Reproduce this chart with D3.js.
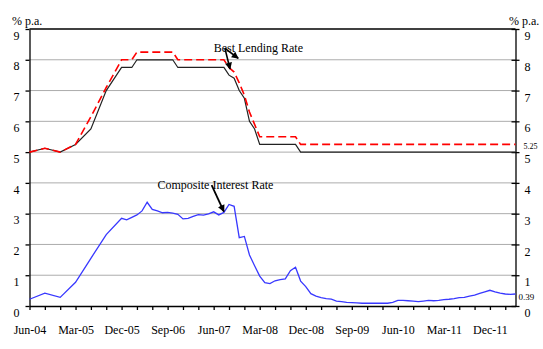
<!DOCTYPE html>
<html><head><meta charset="utf-8">
<script src="https://cdn.jsdelivr.net/npm/d3@7"></script>
<style>
body{margin:0;background:#fff}
svg text{font-family:"Liberation Serif","Times New Roman",serif !important;fill:#000}
</style>
</head><body>
<svg id="c" width="543" height="349"></svg>
<script>
// ---- categories (quarterly to Dec-05, monthly afterwards) ----
const dates = [
 "Jun-04","Sep-04","Dec-04","Mar-05","Jun-05","Sep-05","Dec-05",
 "Jan-06","Feb-06","Mar-06","Apr-06","May-06","Jun-06","Jul-06","Aug-06","Sep-06","Oct-06","Nov-06","Dec-06",
 "Jan-07","Feb-07","Mar-07","Apr-07","May-07","Jun-07","Jul-07","Aug-07","Sep-07","Oct-07","Nov-07","Dec-07",
 "Jan-08","Feb-08","Mar-08","Apr-08","May-08","Jun-08","Jul-08","Aug-08","Sep-08","Oct-08","Nov-08","Dec-08",
 "Jan-09","Feb-09","Mar-09","Apr-09","May-09","Jun-09","Jul-09","Aug-09","Sep-09","Oct-09","Nov-09","Dec-09",
 "Jan-10","Feb-10","Mar-10","Apr-10","May-10","Jun-10","Jul-10","Aug-10","Sep-10","Oct-10","Nov-10","Dec-10",
 "Jan-11","Feb-11","Mar-11","Apr-11","May-11","Jun-11","Jul-11","Aug-11","Sep-11","Oct-11","Nov-11","Dec-11",
 "Jan-12","Feb-12","Mar-12","Apr-12","May-12"
];
// ---- series ----
const composite = [
 0.22,0.42,0.28,0.77,1.55,2.32,2.85,
 2.80,2.88,2.96,3.09,3.37,3.14,3.09,3.03,3.04,3.02,2.98,2.83,
 2.85,2.91,2.97,2.95,2.99,3.06,2.96,3.04,3.30,3.24,2.22,2.26,
 1.66,1.31,0.97,0.76,0.73,0.82,0.86,0.88,1.15,1.26,0.81,0.63,
 0.40,0.32,0.27,0.24,0.22,0.16,0.14,0.12,0.11,0.10,0.09,0.09,
 0.09,0.09,0.09,0.09,0.12,0.18,0.18,0.17,0.16,0.14,0.16,0.18,
 0.17,0.18,0.21,0.22,0.24,0.27,0.28,0.32,0.35,0.41,0.46,0.51,
 0.46,0.42,0.39,0.38,0.39
];
const blrLow = [
 5.0,5.125,5.0,5.25,5.75,7.0,7.75,
 7.75,7.75,8.0,8.0,8.0,8.0,8.0,8.0,8.0,8.0,7.75,7.75,
 7.75,7.75,7.75,7.75,7.75,7.75,7.75,7.75,7.5,7.4,7.0,6.75,
 6.0,5.75,5.25,5.25,5.25,5.25,5.25,5.25,5.25,5.25,5.0,5.0,
 5.0,5.0,5.0,5.0,5.0,5.0,5.0,5.0,5.0,5.0,5.0,5.0,
 5.0,5.0,5.0,5.0,5.0,5.0,5.0,5.0,5.0,5.0,5.0,5.0,
 5.0,5.0,5.0,5.0,5.0,5.0,5.0,5.0,5.0,5.0,5.0,5.0,
 5.0,5.0,5.0,5.0,5.0
];
const blrHigh = [
 5.0,5.125,5.0,5.25,6.15,7.1,8.0,
 8.0,8.0,8.25,8.25,8.25,8.25,8.25,8.25,8.25,8.25,8.0,8.0,
 8.0,8.0,8.0,8.0,8.0,8.0,8.0,8.0,7.75,7.6,7.25,6.85,
 6.3,5.9,5.5,5.5,5.5,5.5,5.5,5.5,5.5,5.5,5.25,5.25,
 5.25,5.25,5.25,5.25,5.25,5.25,5.25,5.25,5.25,5.25,5.25,5.25,
 5.25,5.25,5.25,5.25,5.25,5.25,5.25,5.25,5.25,5.25,5.25,5.25,
 5.25,5.25,5.25,5.25,5.25,5.25,5.25,5.25,5.25,5.25,5.25,5.25,
 5.25,5.25,5.25,5.25,5.25
];
// ---- ticks & labels ----
const yTicks = [0,1,2,3,4,5,6,7,8,9];
const xTickLabels = ["Jun-04","Mar-05","Dec-05","Sep-06","Jun-07","Mar-08","Dec-08","Sep-09","Jun-10","Mar-11","Dec-11"];
const unitLabel = "% p.a.";
const blrLabel = "Best Lending Rate";
const compLabel = "Composite Interest Rate";
const endHighLabel = "5.25";
const endCompLabel = "0.39";

const parse = d3.timeParse("%b-%y");
const base = parse(dates[0]);
const mi = s => d3.timeMonth.count(base, parse(s));
const idx = dates.map(mi);
const lastIdx = d3.max(idx);

const SERIF = '"Liberation Serif", "Times New Roman", serif';
const svg = d3.select("#c");
svg.append("rect").attr("width",543).attr("height",349).attr("fill","#fff");

const L = 29.5, R = 515.5, T = 29, B = 306;
const x = d3.scaleLinear().domain([0,lastIdx]).range([L,R]);
const y = d3.scaleLinear().domain([0,9]).range([B,T]);

// gridlines
svg.append("g").selectAll("line").data(yTicks.filter(d=>d>0 && d<9)).join("line")
  .attr("x1",L).attr("x2",R).attr("y1",d=>y(d)).attr("y2",d=>y(d))
  .attr("stroke","#acacac").attr("stroke-width",1);
// top border
svg.append("line").attr("x1",L).attr("x2",R).attr("y1",y(9)).attr("y2",y(9))
  .attr("stroke","#000").attr("stroke-width",1.3);

// axes
const fs = "12px";
const ax = svg.append("g").attr("transform",`translate(${L},0)`)
  .call(d3.axisLeft(y).tickValues(yTicks).tickSizeInner(4).tickSizeOuter(0).tickPadding(6).tickFormat(d3.format("d")));
const axR = svg.append("g").attr("transform",`translate(${R},0)`)
  .call(d3.axisRight(y).tickValues(yTicks).tickSizeInner(4).tickSizeOuter(0).tickPadding(5).tickFormat(d3.format("d")));
axR.selectAll(".tick line").attr("x1",-4);
const xTickVals = d3.range(0,lastIdx,3);
const labIdx = new Map(xTickLabels.map(s=>[mi(s),s]));
const axB = svg.append("g").attr("transform",`translate(0,${B})`)
  .call(d3.axisBottom(x).tickValues(xTickVals).tickSizeInner(4).tickSizeOuter(0).tickPadding(15)
    .tickFormat(d=>labIdx.get(d)||""));
[ax,axR,axB].forEach(g=>{
  g.attr("font-family",SERIF).attr("font-size",12);
  g.selectAll("text").style("font-size",fs).style("font-family",SERIF).attr("fill","#000");
  g.selectAll("path,line").attr("stroke","#000").attr("stroke-width",1.3);
});
ax.selectAll("text").attr("dy","0.85em");
axR.selectAll("text").attr("dy","0.88em");

// unit labels
svg.append("text").attr("x",12).attr("y",25).style("font-size",fs).text(unitLabel);
svg.append("text").attr("x",509).attr("y",25).style("font-size",fs).text(unitLabel);

// lines
const line = arr => d3.line().x((d,i)=>x(idx[i])).y(d=>y(d))(arr);
svg.append("path").attr("d",line(composite)).attr("fill","none")
  .attr("stroke","#3838ff").attr("stroke-width",1.3);
svg.append("path").attr("d",line(blrLow)).attr("fill","none")
  .attr("stroke","#222").attr("stroke-width",1.2);
svg.append("path").attr("d",line(blrHigh)).attr("fill","none")
  .attr("stroke","#ff0000").attr("stroke-width",1.6).attr("stroke-dasharray","8,4");

// end labels
svg.append("text").attr("x",R+8).attr("y",y(blrHigh[blrHigh.length-1])+5)
  .style("font-size","8px").text(endHighLabel);
svg.append("text").attr("x",R+3).attr("y",y(composite[composite.length-1])+6)
  .style("font-size","9px").text(endCompLabel);

// annotations
const defs = svg.append("defs");
defs.append("marker").attr("id","ah").attr("viewBox","0 0 10 10").attr("refX",9).attr("refY",5)
  .attr("markerWidth",8).attr("markerHeight",7).attr("markerUnits","userSpaceOnUse").attr("orient","auto")
  .append("path").attr("d","M0,0L10,5L0,10z").attr("fill","#000");

svg.append("text").attr("x",x(36.0)).attr("y",52).style("font-size",fs).text(blrLabel);
const a0 = [x(38.2), y(8.37)];
svg.append("line").attr("x1",a0[0]).attr("y1",a0[1]).attr("x2",x(40.8)).attr("y2",y(8.05))
  .attr("stroke","#000").attr("stroke-width",1.6).attr("marker-end","url(#ah)");
svg.append("line").attr("x1",a0[0]).attr("y1",a0[1]).attr("x2",x(39.2)).attr("y2",y(7.7))
  .attr("stroke","#000").attr("stroke-width",1.6).attr("marker-end","url(#ah)");

svg.append("text").attr("x",x(25.0)).attr("y",189).style("font-size",fs).text(compLabel);
svg.append("line").attr("x1",x(35.6)).attr("y1",y(3.93)).attr("x2",x(38.0)).attr("y2",y(3.07))
  .attr("stroke","#000").attr("stroke-width",1.8).attr("marker-end","url(#ah)");
</script>
</body></html>
